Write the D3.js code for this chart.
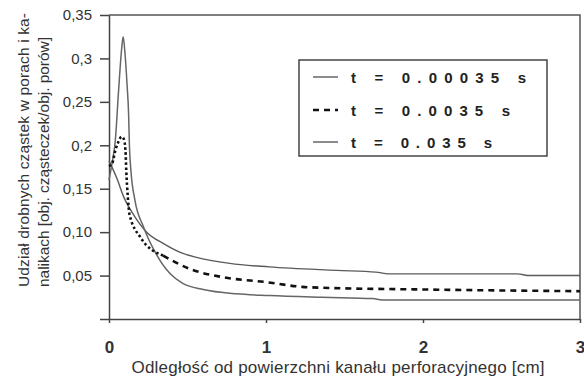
<!DOCTYPE html>
<html>
<head>
<meta charset="utf-8">
<script src="https://cdn.jsdelivr.net/npm/d3@7"></script>
<style>
  body { margin: 0; background: #fff; }
  text { font-family: "Liberation Sans", Arial, sans-serif; fill: #333; }
</style>
</head>
<body>
<div id="chart"></div>
<script>
// values
var yTickValues = [0, 0.05, 0.10, 0.15, 0.2, 0.25, 0.3, 0.35],
	yTickLabels = ["", "0,05", "0,10", "0,15", "0,2", "0,25", "0,3", "0,35"],
	xTickValues = [0, 1, 2, 3],
	xTickLabels = ["0", "1", "2", "3"];

var legendLabels = ["t = 0.00035 s", "t = 0.0035 s", "t = 0.035 s"];

// t = 0.00035 s
var xA = [0, 0.05, 0.095, 0.16, 0.24, 0.345, 0.45, 0.557, 0.77, 1.02, 1.45, 1.7, 1.78, 2.6, 2.68, 3.0],
	yA = [0.182, 0.162, 0.14, 0.119, 0.100, 0.087, 0.077, 0.071, 0.064, 0.060, 0.056, 0.054, 0.052, 0.052, 0.050, 0.050];

// t = 0.0035 s
var xB = [0, 0.02, 0.04, 0.06, 0.08, 0.095, 0.105, 0.11, 0.12, 0.13, 0.2, 0.345, 0.51, 0.73, 1.0, 1.23, 1.36, 2.0, 3.0],
	yB = [0.176, 0.179, 0.194, 0.204, 0.21, 0.207, 0.194, 0.171, 0.14, 0.121, 0.094, 0.073, 0.058, 0.048, 0.0425, 0.037, 0.036, 0.034, 0.032];

// t = 0.035 s
var xC = [0, 0.02, 0.04, 0.06, 0.08, 0.09, 0.10, 0.115, 0.125, 0.13, 0.14, 0.165, 0.22, 0.30, 0.39, 0.47, 0.60, 0.81, 1.02, 1.36, 1.68, 1.74, 3.0],
	yC = [0.16, 0.18, 0.205, 0.26, 0.31, 0.325, 0.31, 0.27, 0.235, 0.2, 0.17, 0.137, 0.106, 0.075, 0.052, 0.041, 0.034, 0.029, 0.027, 0.025, 0.0235, 0.022, 0.022];

var width = 584,
	height = 381,
	plotLeft = 109,
	plotRight = 580,
	plotTop = 15,
	plotBottom = 319;

var svg = d3.select("#chart")
	.append("svg")
	.attr("width", width)
	.attr("height", height);

var x = d3.scaleLinear().domain([0, 3]).range([plotLeft, plotRight]);
var y = d3.scaleLinear().domain([0, 0.35]).range([plotBottom, plotTop]);

function zip(xs, ys){
	return xs.map(function(d, i){ return [d, ys[i]]; });
}

var line = d3.line()
	.curve(d3.curveMonotoneX)
	.x(function(d){ return x(d[0]); })
	.y(function(d){ return y(d[1]); });

// frame (top + right)
svg.append("path")
	.attr("d", "M" + plotLeft + "," + plotTop + "H" + plotRight + "V" + plotBottom)
	.attr("fill", "none")
	.attr("stroke", "#555")
	.attr("stroke-width", 1.5);

// axes
var yAxis = svg.append("g")
	.attr("transform", "translate(" + plotLeft + ",0)")
	.call(d3.axisLeft(y)
		.tickValues(yTickValues)
		.tickFormat(function(d, i){ return yTickLabels[i]; })
		.tickSize(9)
		.tickSizeOuter(0)
		.tickPadding(8));

var xAxis = svg.append("g")
	.attr("transform", "translate(0," + plotBottom + ")")
	.call(d3.axisBottom(x)
		.tickValues(xTickValues)
		.tickFormat(function(d, i){ return xTickLabels[i]; })
		.tickSize(4)
		.tickSizeOuter(0)
		.tickPadding(18));

svg.selectAll(".domain, .tick line")
	.attr("stroke", "#444")
	.attr("stroke-width", 1.5);

yAxis.selectAll("text")
	.attr("fill", "#333")
	.style("font-size", "15px");

xAxis.selectAll("text")
	.attr("fill", "#222")
	.style("font-size", "17px")
	.style("font-weight", "bold");

// curves
svg.append("path")
	.datum(zip(xA, yA))
	.attr("d", line)
	.attr("fill", "none")
	.attr("stroke", "#5a5a5a")
	.attr("stroke-width", 1.4);

svg.append("path")
	.datum(zip(xC, yC))
	.attr("d", line)
	.attr("fill", "none")
	.attr("stroke", "#666")
	.attr("stroke-width", 1.5);

var dataB = zip(xB, yB);
svg.append("path")
	.datum(dataB.filter(function(d){ return d[0] <= 0.345; }))
	.attr("d", line)
	.attr("fill", "none")
	.attr("stroke", "#111")
	.attr("stroke-width", 2.6)
	.attr("stroke-dasharray", "2.5,2.5");

svg.append("path")
	.datum(dataB.filter(function(d){ return d[0] >= 0.345; }))
	.attr("d", line)
	.attr("fill", "none")
	.attr("stroke", "#111")
	.attr("stroke-width", 2.6)
	.attr("stroke-dasharray", "6,5");

// legend
var legend = svg.append("g");

legend.append("rect")
	.attr("x", 299)
	.attr("y", 60)
	.attr("width", 248)
	.attr("height", 96)
	.attr("fill", "#fff")
	.attr("stroke", "#444")
	.attr("stroke-width", 1.5);

var rowY = [77, 110, 142],
	rowLen = [175, 159, 141];

legendLabels.forEach(function(label, i){
	var g = legend.append("g").attr("transform", "translate(0," + rowY[i] + ")");
	if(i === 1){
		g.append("line")
			.attr("x1", 313).attr("x2", 338)
			.attr("stroke", "#111")
			.attr("stroke-width", 2.6)
			.attr("stroke-dasharray", "6,5");
	} else {
		g.append("line")
			.attr("x1", 313).attr("x2", 338)
			.attr("stroke", "#666")
			.attr("stroke-width", 1.5);
	}
	g.append("text")
		.attr("x", 351)
		.attr("y", 5.5)
		.attr("textLength", rowLen[i])
		.attr("lengthAdjust", "spacing")
		.style("font-size", "15px")
		.style("font-weight", "bold")
		.style("fill", "#222")
		.text(label);
});

// axis titles
svg.append("text")
	.attr("x", 338)
	.attr("y", 373)
	.attr("text-anchor", "middle")
	.attr("textLength", 413)
	.attr("lengthAdjust", "spacing")
	.style("font-size", "17px")
	.text("Odległość od powierzchni kanału perforacyjnego [cm]");

svg.append("text")
	.attr("transform", "translate(29,287) rotate(-90)")
	.attr("textLength", 274)
	.attr("lengthAdjust", "spacing")
	.style("font-size", "15.5px")
	.text("Udział drobnych cząstek w porach i ka-");

svg.append("text")
	.attr("transform", "translate(49,287) rotate(-90)")
	.attr("textLength", 250)
	.attr("lengthAdjust", "spacing")
	.style("font-size", "15.5px")
	.text("nalikach [obj. cząsteczek/obj. porów]");
</script>
</body>
</html>
